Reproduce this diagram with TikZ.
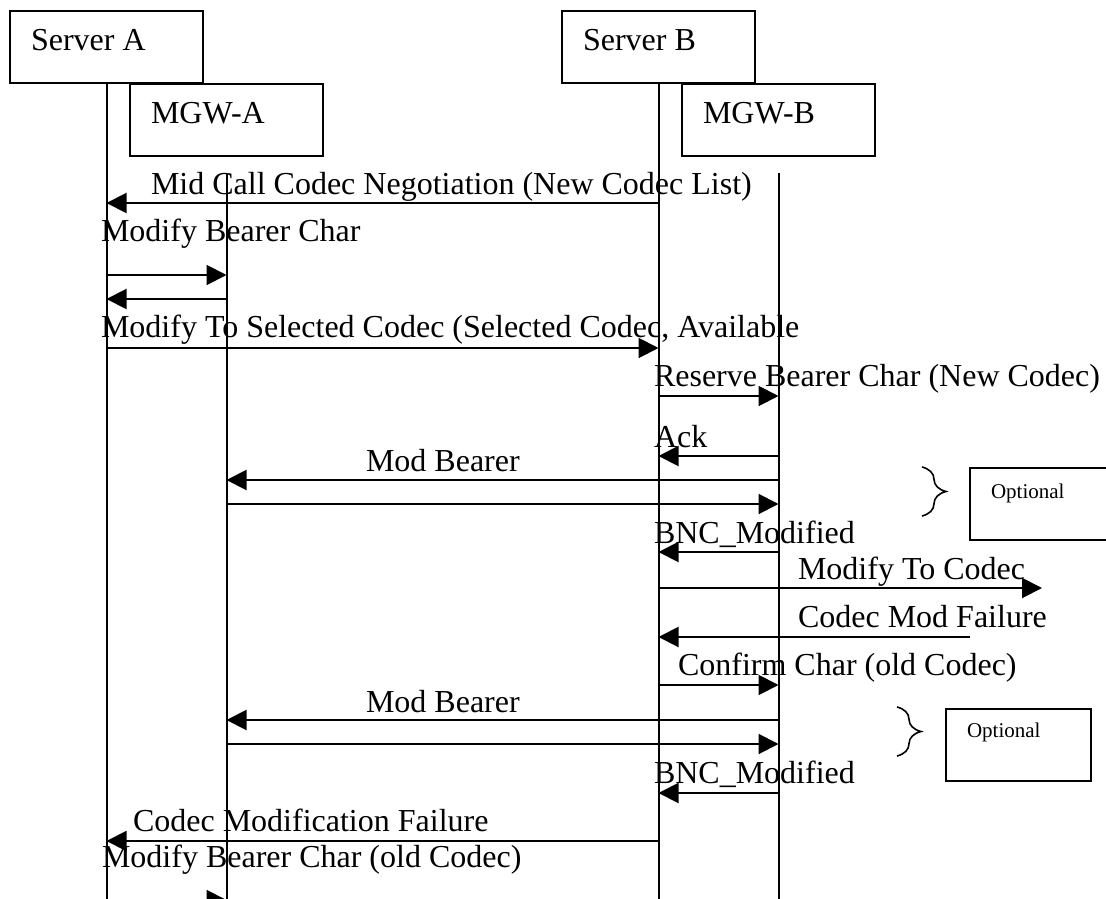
\documentclass[tikz,border=0pt]{standalone}
\usepackage{fontspec}
\setmainfont{Liberation Serif}
\usetikzlibrary{arrows.meta,decorations.pathreplacing}
\begin{document}
\begin{tikzpicture}[x=1pt,y=-1pt, line width=2pt,
  lbl/.style={anchor=base west, inner sep=0pt, font=\fontsize{32}{38}\selectfont},
  small/.style={anchor=base west, inner sep=0pt, font=\fontsize{21}{25}\selectfont},
  box/.style={draw, rectangle, inner sep=0pt, anchor=north west, minimum height=72pt},
  msg/.style={-{Triangle[length=20pt,width=20pt]}},
  brc/.style={line width=1.6pt, decorate, decoration={brace, amplitude=24pt}}]
\useasboundingbox (0,0) rectangle (1106,899);
\clip (0,0) rectangle (1106,899);

% participant boxes
\node[box, minimum width=193pt] (boxA) at (9,10) {};
\node[box, minimum width=193pt] (boxB) at (561,10) {};
\node[box, minimum width=193pt] (boxMA) at (129,83) {};
\node[box, minimum width=193pt] (boxMB) at (681,83) {};
\node[lbl] (tA) at (30,51) {Server A};
\node[lbl] (tB) at (582,51) {Server B};
\node[lbl] (tMA) at (150,123) {MGW-A};
\node[lbl] (tMB) at (702,123) {MGW-B};

% lifelines
\coordinate (A) at (boxA.south);
\coordinate (B) at (boxB.south);
\coordinate (MA) at (boxMA.south |- 0,173);
\coordinate (MB) at (boxMB.south |- 0,173);
\coordinate (Aend) at (A |- 0,910);
\coordinate (Bend) at (B |- 0,910);
\coordinate (MAend) at (MA |- 0,910);
\coordinate (MBend) at (MB |- 0,910);
\draw (A) -- (Aend);
\draw (B) -- (Bend);
\draw (MA) -- (MAend);
\draw (MB) -- (MBend);

% messages
\node[lbl] (m1) at (150,194) {Mid Call Codec Negotiation (New Codec List)};
\draw[msg] (B |- 0,203) -- (A |- 0,203);

\node[lbl] (m2) at (100,241) {Modify Bearer Char};
\draw[msg] (A |- 0,275) -- (MA |- 0,275);
\draw[msg] (MA |- 0,299) -- (A |- 0,299);

\node[lbl] (m3) at (100,337) {Modify To Selected Codec (Selected Codec, Available};
\draw[msg] (A |- 0,348) -- (B |- 0,348);

\node[lbl] (m4) at (653,386) {Reserve Bearer Char (New Codec)};
\draw[msg] (B |- 0,396) -- (MB |- 0,396);

\node[lbl] (m5) at (653,447) {Ack};
\draw[msg] (MB |- 0,456) -- (B |- 0,456);

\node[lbl] (m6) at (365,471) {Mod Bearer};
\draw[msg] (MB |- 0,480) -- (MA |- 0,480);
\draw[msg] (MA |- 0,504) -- (MB |- 0,504);

\coordinate (br1a) at (922,467);
\coordinate (br1b) at (922,516);
\draw[brc] (br1a) -- (br1b);
\node[box, minimum width=150pt] (opt1) at (969,467) {};
\node[small] (o1) at (990,498) {Optional};

\node[lbl] (m7) at (653,543) {BNC\_Modified};
\draw[msg] (MB |- 0,552) -- (B |- 0,552);

\node[lbl] (m8) at (797,579) {Modify To Codec};
\coordinate (m8end) at (1042,588);
\draw[msg] (B |- m8end) -- (m8end);

\node[lbl] (m9) at (797,627) {Codec Mod Failure};
\coordinate (m9start) at (970,637);
\draw[msg] (m9start) -- (B |- m9start);

\node[lbl] (m10) at (677,675) {Confirm Char (old Codec)};
\draw[msg] (B |- 0,685) -- (MB |- 0,685);

\node[lbl] (m11) at (365,712) {Mod Bearer};
\draw[msg] (MB |- 0,720) -- (MA |- 0,720);
\draw[msg] (MA |- 0,744) -- (MB |- 0,744);

\coordinate (br2a) at (897,707);
\coordinate (br2b) at (897,756);
\draw[brc] (br2a) -- (br2b);
\node[box, minimum width=145pt] (opt2) at (945,708) {};
\node[small] (o2) at (966,737) {Optional};

\node[lbl] (m12) at (653,783) {BNC\_Modified};
\draw[msg] (MB |- 0,793) -- (B |- 0,793);

\node[lbl] (m13) at (132,831) {Codec Modification Failure};
\draw[msg] (B |- 0,841) -- (A |- 0,841);

\node[lbl] (m14) at (101,867) {Modify Bearer Char (old Codec)};
\draw[msg] (A |- 0,900) -- (MA |- 0,900);
\end{tikzpicture}
\end{document}
